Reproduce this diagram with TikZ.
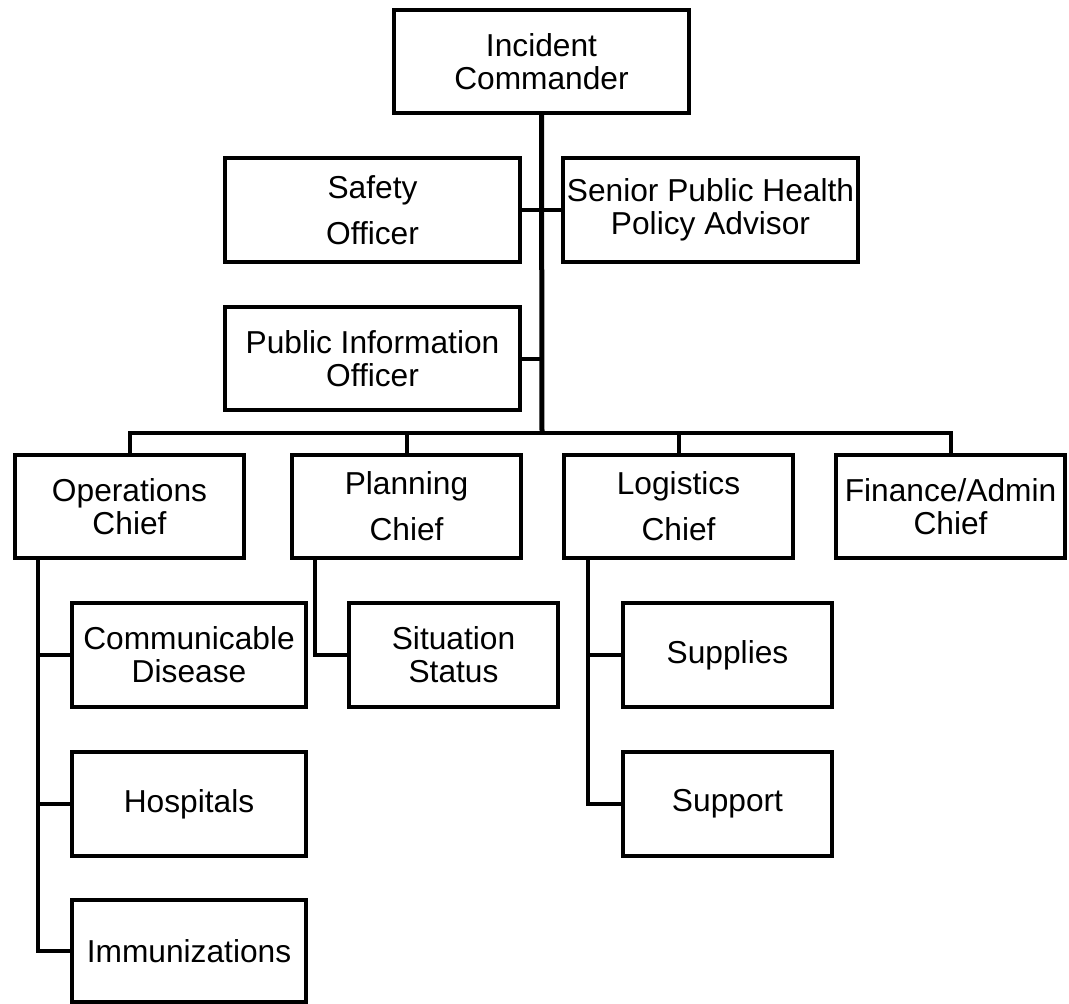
\documentclass[tikz,border=0pt]{standalone}
\usepackage{fontspec}
\setmainfont{Liberation Sans}
\usetikzlibrary{positioning}

\begin{document}
\begin{tikzpicture}[x=1pt, y=1pt,
    orgbox/.style={draw, line width=4pt, fill=white, inner sep=0pt, outer sep=0pt,
      align=center, font=\fontsize{31.7}{33}\selectfont},
    topbox/.style={orgbox, minimum width=295pt, minimum height=104pt},
    chiefbox/.style={orgbox, minimum width=229pt, minimum height=103pt},
    teambox/.style={orgbox, minimum width=234pt, minimum height=104pt},
    unitbox/.style={orgbox, minimum width=209pt, minimum height=104pt},
    wire/.style={line width=4pt},
    trunk/.style={line width=5pt}]
    \fill[white] (0,0) rectangle (1069,-1004);
    \useasboundingbox (0,0) rectangle (1069,-1004);

    % Define nodes
    \node[topbox, minimum height=103pt] (ic) at (541.5,-61.5) {Incident\\Commander};
    \node[topbox] (safety) at (372.5,-210) {Safety\\[13pt]Officer};
    \node[topbox, right = 43pt of safety] (advisor) {Senior Public Health\\Policy Advisor};
    \node[topbox, minimum height=103pt, below = 45pt of safety] (pio) {Public Information\\Officer};

    \node[chiefbox] (ops) at (129.5,-506.5) {Operations\\Chief};
    \node[chiefbox, right = 48pt of ops] (plan) {Planning\\[13pt]Chief};
    \node[chiefbox, right = 43pt of plan] (logi) {Logistics\\[13pt]Chief};
    \node[chiefbox, right = 43pt of logi] (fin) {Finance/Admin\\Chief};

    \node[teambox] (cd) at (189,-655) {Communicable\\Disease};
    \node[teambox, below = 45pt of cd] (hosp) {Hospitals};
    \node[teambox, minimum height=102pt, below = 44pt of hosp] (imm) {Immunizations};

    \node[unitbox] (sit) at (453.5,-655) {Situation\\Status};
    \node[unitbox] (sup) at (727.5,-655) {Supplies};
    \node[unitbox, below = 45pt of sup] (sprt) {Support};

    % Connect nodes
    \coordinate (bus) at (542,-433);
    \draw[trunk] (ic.south) -- (bus);
    \draw[wire] (safety.east) -- (advisor.west);
    \draw[wire] (pio.east) -- (pio.east -| bus);
    \draw[wire] (ops.north) |- (bus) -| (fin.north);
    \draw[wire] (plan.north) -- (plan.north |- bus);
    \draw[wire] (logi.north) -- (logi.north |- bus);

    % branch rails
    \coordinate (opsrail) at ([xshift=23pt]ops.south west);
    \draw[wire] (opsrail) |- (imm.west);
    \draw[wire] (opsrail |- cd.west) -- (cd.west);
    \draw[wire] (opsrail |- hosp.west) -- (hosp.west);

    \coordinate (planrail) at ([xshift=23pt]plan.south west);
    \draw[wire] (planrail) |- (sit.west);

    \coordinate (logirail) at ([xshift=24pt]logi.south west);
    \draw[wire] (logirail) |- (sprt.west);
    \draw[wire] (logirail |- sup.west) -- (sup.west);
\end{tikzpicture}
\end{document}
